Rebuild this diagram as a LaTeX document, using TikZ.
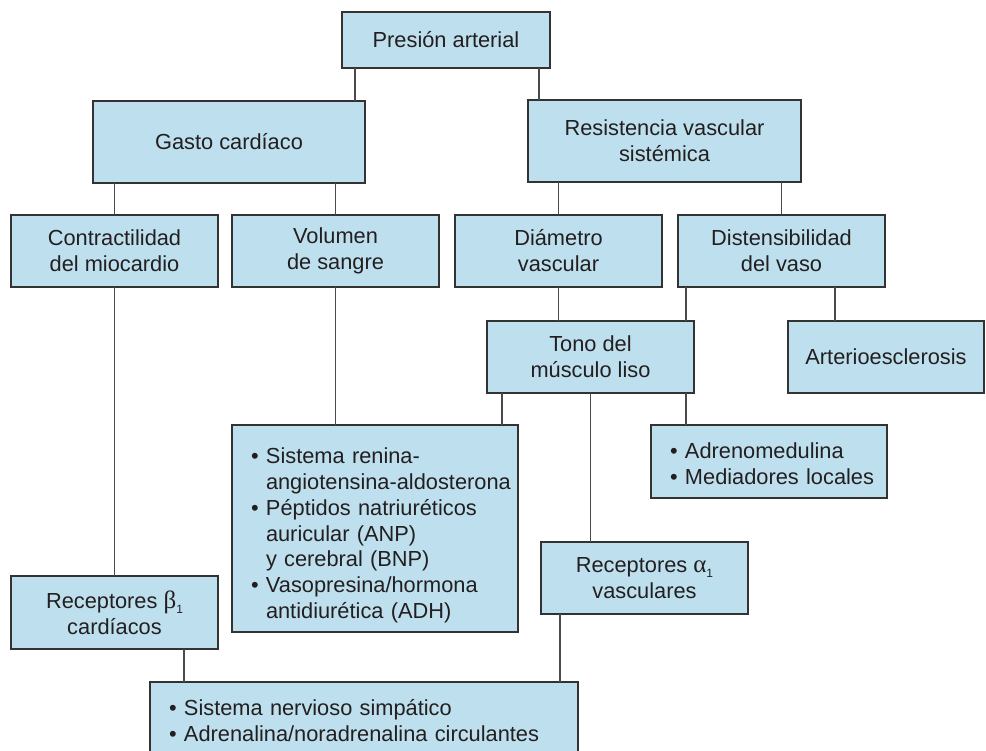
\documentclass[tikz,border=0pt]{standalone}
\usepackage{fontspec}
\setmainfont{Liberation Sans}
\newfontfamily\grkfont{Liberation Serif}
\definecolor{boxfill}{HTML}{BEE0EE}
\definecolor{boxline}{HTML}{333333}
\definecolor{conn}{HTML}{4A4A4A}
\definecolor{txt}{HTML}{231F20}
\newcommand\subone{\raisebox{-5pt}{\fontsize{12}{12}\selectfont 1}}
\newcommand\grk[1]{{\grkfont\fontsize{25}{26}\selectfont #1}}
\newcommand\bfirst[1]{\leftskip=19pt\rightskip=0pt plus 1fil\parindent=0pt\hangindent=15pt\hangafter=1\makebox[15pt][l]{\textbullet}#1}
\newcommand\bitem[1]{\par\hangindent=15pt\hangafter=1\noindent\makebox[15pt][l]{\textbullet}#1}
\begin{document}
\begin{tikzpicture}[x=1pt,y=-1pt,
  every node/.style={text=txt, font=\fontsize{21.8}{26}\selectfont},
  box/.style={draw=boxline, fill=boxfill, line width=1.4pt, inner sep=0pt, outer sep=0pt, anchor=north west, align=center},
  blist/.style={draw=boxline, fill=boxfill, line width=1.4pt, inner sep=0pt, outer sep=0pt, anchor=north west, text width=#1},
  link/.style={draw=conn, line width=1.9pt}]
\path[use as bounding box] (0,0) rectangle (986,751);
\clip (0,0) rectangle (986,751);

\node[box, minimum width=208, minimum height=56] (presion) at (342,12) {Presión arterial};
\node[box, minimum width=272, minimum height=82] (gasto) at (93,101) {Gasto cardíaco};
\node[box, minimum width=273, minimum height=82] (resist) at (528,100) {Resistencia vascular\\sistémica};
\node[box, minimum width=207, minimum height=72] (contr) at (11,215) {Contractilidad\\del miocardio};
\node[box, minimum width=207, minimum height=72] (vol) at (232,215) {Volumen\\de sangre};
\node[box, minimum width=207, minimum height=72] (diam) at (455,215) {Diámetro\\vascular};
\node[box, minimum width=207, minimum height=72] (dist) at (678,215) {Distensibilidad\\del vaso};
\node[box, minimum width=207, minimum height=72] (tono) at (487,321) {Tono del\\músculo liso};
\node[box, minimum width=196, minimum height=72] (arterio) at (788,321) {Arterioesclerosis};
\node[blist=286, text height=38, text depth=169] (renina) at (232,425) {\bfirst{Sistema renina-\newline angiotensina-aldosterona}%
  \bitem{Péptidos natriuréticos\newline auricular (ANP)\newline y cerebral (BNP)}%
  \bitem{Vasopresina/hormona\newline antidiurética (ADH)}\par};
\node[blist=236, text height=33, text depth=40] (adreno) at (651,425) {\bfirst{Adrenomedulina}%
  \bitem{Mediadores locales}\par};
\node[box, minimum width=207, minimum height=72] (alpha) at (541,542) {Receptores \grk{α}\subone\\vasculares};
\node[box, minimum width=207, minimum height=73] (beta) at (11,576) {Receptores \grk{β}\subone\\cardíacos};
\node[blist=428, text height=33, text depth=45] (snc) at (150,682) {\bfirst{Sistema nervioso simpático}%
  \bitem{Adrenalina/noradrenalina circulantes}\par};

\coordinate (c1) at ([xshift=13pt]presion.south west);
\coordinate (c2) at ([xshift=-11pt]presion.south east);
\coordinate (c3) at ([xshift=8pt]dist.south west);
\coordinate (c4) at ([xshift=-50pt]dist.south east);
\coordinate (c5) at ([xshift=15pt]tono.south west);
\coordinate (c6) at ([xshift=-8pt]tono.south east);
\coordinate (c7) at ([xshift=-34pt]beta.south east);
\coordinate (c8) at ([xshift=19pt]alpha.south west);

\draw[link] (c1) -- (c1 |- gasto.north);
\draw[link] (c2) -- (c2 |- resist.north);
\draw[link] (contr.north) -- (contr.north |- gasto.south);
\draw[link] (vol.north) -- (vol.north |- gasto.south);
\draw[link] (diam.north) -- (diam.north |- resist.south);
\draw[link] (dist.north) -- (dist.north |- resist.south);
\draw[link] (diam.south) -- (diam.south |- tono.north);
\draw[link] (c3) -- (c3 |- tono.north);
\draw[link] (c4) -- (c4 |- arterio.north);
\draw[link] (contr.south) -- (beta.north);
\draw[link] (vol.south) -- (vol.south |- renina.north);
\draw[link] (c5) -- (c5 |- renina.north);
\draw[link] (tono.south) -- (tono.south |- alpha.north);
\draw[link] (c6) -- (c6 |- adreno.north);
\draw[link] (c7) -- (c7 |- snc.north);
\draw[link] (c8) -- (c8 |- snc.north);
\end{tikzpicture}
\end{document}
